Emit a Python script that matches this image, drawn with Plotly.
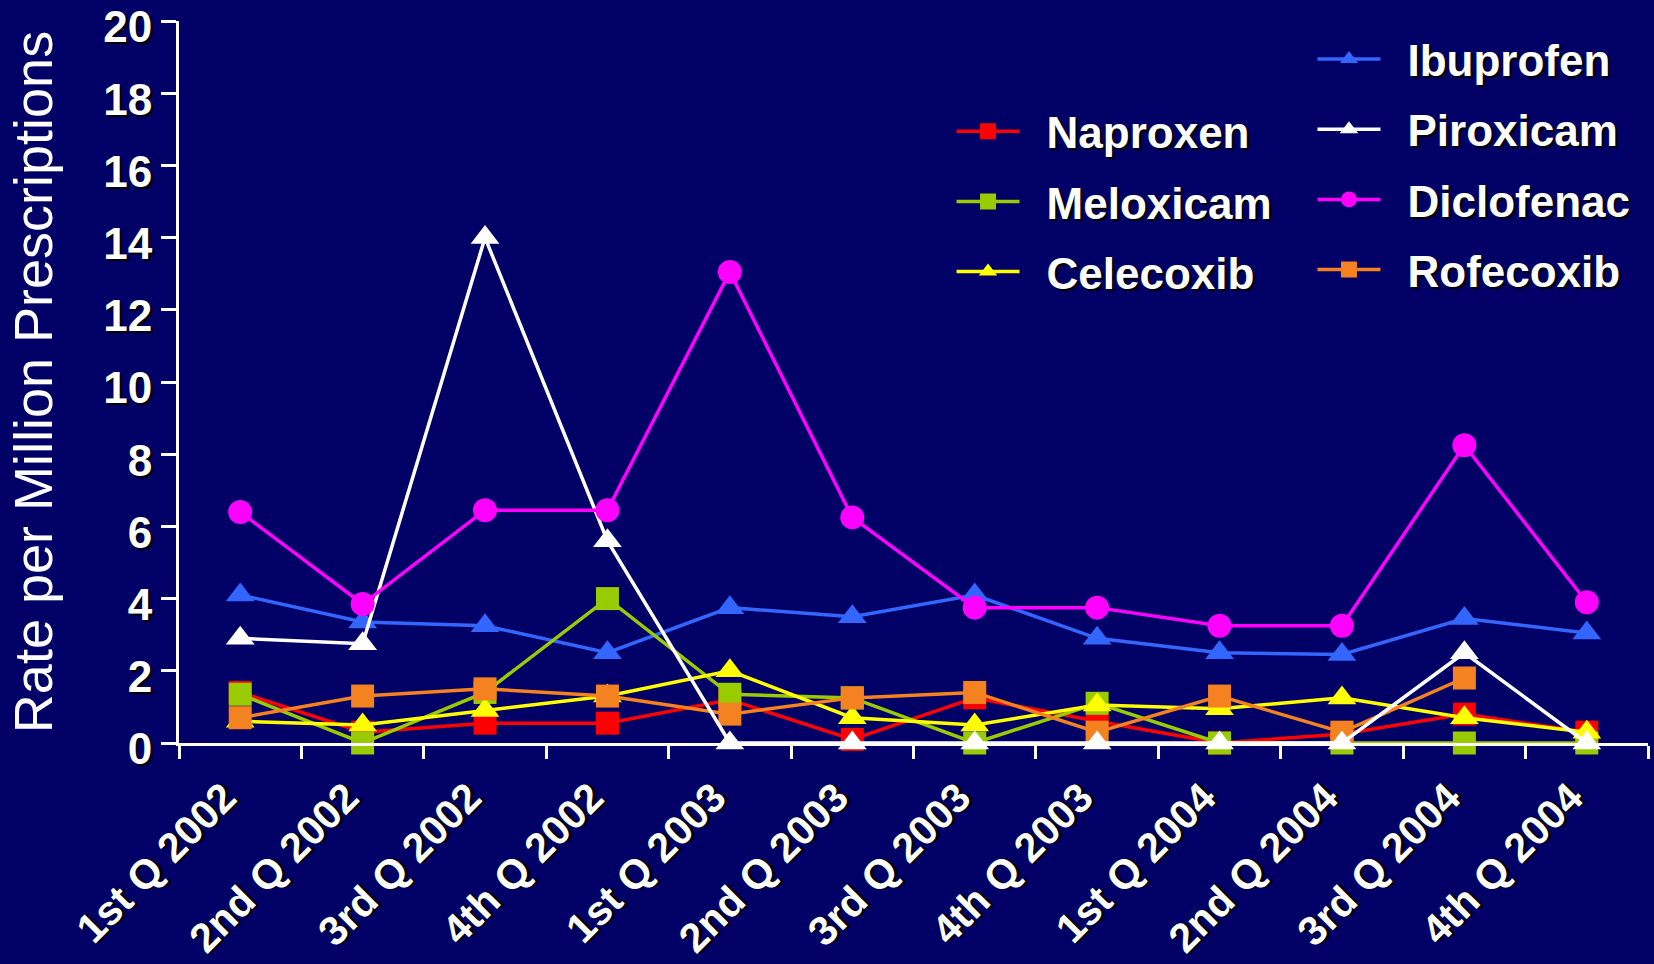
import plotly.graph_objects as go

quarters = ["1st Q 2002", "2nd Q 2002", "3rd Q 2002", "4th Q 2002",
            "1st Q 2003", "2nd Q 2003", "3rd Q 2003", "4th Q 2003",
            "1st Q 2004", "2nd Q 2004", "3rd Q 2004", "4th Q 2004"]

ibuprofen = [4.1, 3.35, 3.25, 2.5, 3.75, 3.5, 4.1, 2.9, 2.5, 2.45, 3.45, 3.05]
naproxen = [1.4, 0.3, 0.55, 0.55, 1.2, 0.1, 1.25, 0.6, 0.0, 0.25, 0.8, 0.3]
meloxicam = [1.35, 0.0, 1.4, 4.0, 1.35, 1.25, 0.0, 1.1, 0.0, 0.0, 0.0, 0.0]
celecoxib = [0.6, 0.5, 0.9, 1.3, 2.0, 0.7, 0.5, 1.05, 0.95, 1.25, 0.7, 0.3]
rofecoxib = [0.7, 1.3, 1.5, 1.3, 0.8, 1.25, 1.4, 0.3, 1.3, 0.3, 1.8, None]
piroxicam = [2.9, 2.75, 14.0, 5.6, 0.0, 0.0, 0.0, 0.0, 0.0, 0.0, 2.5, 0.0]
diclofenac = [6.4, 3.85, 6.45, 6.45, 13.05, 6.25, 3.75, 3.75, 3.25, 3.25, 8.25, 3.9]

BG = "#000066"
FONT = "Liberation Sans, Arial, sans-serif"
SHADOW = "2px 2px 1px #000000"
GAP = "\u2002"  # en space between legend symbol and label

# (name, values, colour, symbol, size, legend)
series = [
    ("Ibuprofen", ibuprofen, "#3366FF", "triangle-up", 25, "legend2"),
    ("Naproxen", naproxen, "#FF0000", "square", 23, "legend"),
    ("Meloxicam", meloxicam, "#99CC00", "square", 23, "legend"),
    ("Celecoxib", celecoxib, "#FFFF00", "triangle-up", 25, "legend"),
    ("Rofecoxib", rofecoxib, "#F58220", "square", 23, "legend2"),
    ("Piroxicam", piroxicam, "#FFFFFF", "triangle-up", 25, "legend2"),
    ("Diclofenac", diclofenac, "#FF00FF", "circle", 24, "legend2"),
]
legend_rank = {"Ibuprofen": 1, "Piroxicam": 2, "Diclofenac": 3, "Rofecoxib": 4,
               "Naproxen": 1, "Meloxicam": 2, "Celecoxib": 3}

fig = go.Figure()
for name, vals, color, symbol, size, leg in series:
    fig.add_trace(go.Scatter(
        x=quarters, y=vals, name=GAP + name, mode="lines+markers",
        line=dict(color=color, width=3.5),
        marker=dict(color=color, symbol=symbol, size=size, line=dict(width=0)),
        cliponaxis=False, legend=leg, legendgroup=name,
        legendrank=legend_rank[name],
    ))

legend_font = dict(family=FONT, size=44, color="white", weight="bold", shadow=SHADOW)

fig.update_layout(
    width=1654, height=964,
    paper_bgcolor=BG, plot_bgcolor=BG,
    margin=dict(l=179, r=6, t=21, b=221),
    showlegend=True,
    legend=dict(x=0.5259, y=0.896, xanchor="left", yanchor="top",
                bgcolor="rgba(0,0,0,0)", font=legend_font,
                tracegroupgap=10, itemwidth=63),
    legend2=dict(x=0.7716, y=0.996, xanchor="left", yanchor="top",
                 bgcolor="rgba(0,0,0,0)", font=legend_font,
                 tracegroupgap=10, itemwidth=63),
    xaxis=dict(
        type="category", range=[-0.5, 11.5],
        tickson="boundaries", ticks="outside", ticklen=13, tickwidth=3,
        tickcolor="white", showline=True, linewidth=3, linecolor="white",
        showgrid=False, zeroline=False, tickangle=-45,
        ticklabelshift=-16, ticklabelstandoff=11,
        tickfont=dict(family=FONT, size=41, color="white", weight="bold", shadow=SHADOW),
        automargin=False,
    ),
    yaxis=dict(
        range=[0, 20], dtick=2, ticks="outside", ticklen=15, tickwidth=3,
        tickcolor="white", showline=True, linewidth=3, linecolor="white",
        showgrid=False, zeroline=False, ticklabeloverflow="allow",
        ticklabelshift=6,
        tickfont=dict(family=FONT, size=44, color="white", weight="bold", shadow=SHADOW),
        title=dict(text="Rate per Million Prescriptions", standoff=34,
                   font=dict(family=FONT, size=54, color="white")),
        automargin=False,
    ),
)

fig.write_html("out.html")
